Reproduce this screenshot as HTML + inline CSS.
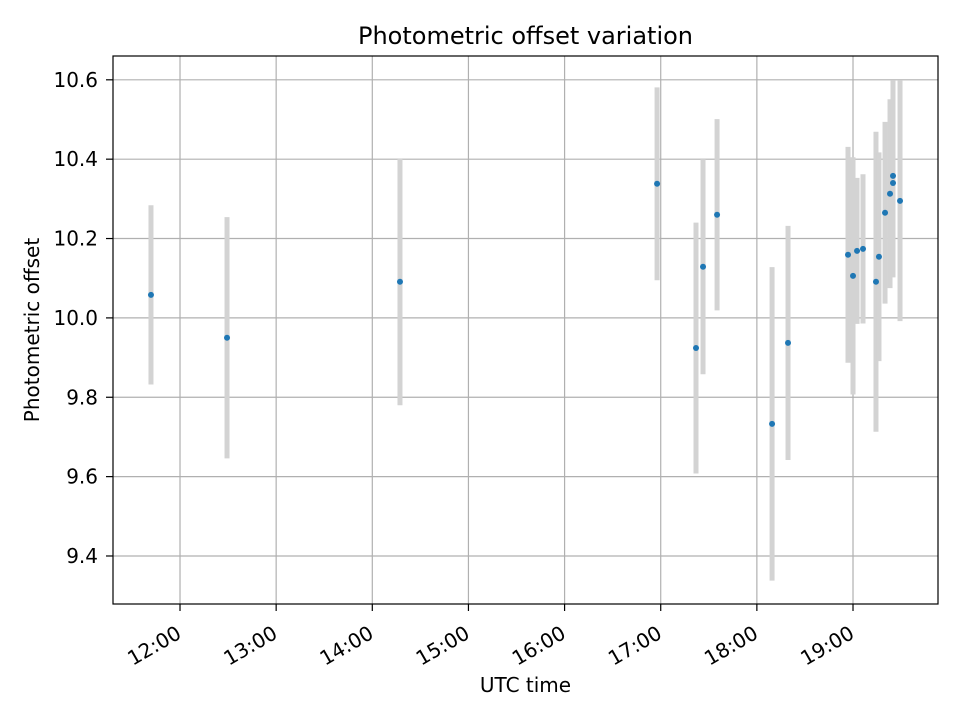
<!DOCTYPE html>
<html><head><meta charset="utf-8"><style>body{margin:0;background:#fff}svg text{font-family:"DejaVu Sans","Liberation Sans",sans-serif;fill:#000}</style></head>
<body>
<svg id="chart" width="960" height="720"></svg>
<script>
const times=[11.698,12.489,14.288,16.962,17.367,17.44,17.586,18.158,18.324,18.948,19.0,19.042,19.104,19.239,19.27,19.333,19.385,19.416,19.416,19.489];
const values=[10.058,9.950,10.091,10.338,9.924,10.129,10.260,9.733,9.937,10.159,10.106,10.169,10.174,10.091,10.154,10.265,10.313,10.340,10.358,10.295];
const errors=[0.226,0.304,0.311,0.243,0.316,0.271,0.241,0.395,0.295,0.272,0.299,0.184,0.188,0.378,0.263,0.229,0.238,0.238,0.24,0.303];
const yTicks=[9.4,9.6,9.8,10.0,10.2,10.4,10.6];
const xTicks=[12,13,14,15,16,17,18,19];
const xTickLabels=["12:00","13:00","14:00","15:00","16:00","17:00","18:00","19:00"];
const L=113,R=938,T=56,B=604,x0=11.303,x1=19.884,y0=9.279,y1=10.66;
const sx=v=>L+(v-x0)/(x1-x0)*(R-L);
const sy=v=>B-(v-y0)/(y1-y0)*(B-T);
const svg=document.getElementById('chart');const NS='http://www.w3.org/2000/svg';
function mk(t,a,p){const e=document.createElementNS(NS,t);for(const k in a)e.setAttribute(k,a[k]);(p||svg).appendChild(e);return e;}
const grid=mk('g',{});
xTicks.forEach((t,i)=>{const x=sx(t);mk('line',{x1:x,x2:x,y1:T,y2:B,stroke:'#b0b0b0','stroke-width':1.2},grid);
mk('line',{x1:x,x2:x,y1:B,y2:B+7,stroke:'#000','stroke-width':1.2});
const tx=mk('text',{x:0,y:0,'font-size':20,'text-anchor':'end','dominant-baseline':'hanging',transform:`translate(${x-5} ${B+20}) rotate(-30)`});
tx.textContent=xTickLabels[i];});
yTicks.forEach(t=>{const y=sy(t);mk('line',{x1:L,x2:R,y1:y,y2:y,stroke:'#b0b0b0','stroke-width':1.2},grid);
mk('line',{x1:L-7,x2:L,y1:y,y2:y,stroke:'#000','stroke-width':1.2});
const tx=mk('text',{x:98,y:y+7,'font-size':20,'text-anchor':'end'});
tx.textContent=t.toFixed(1);});
times.forEach((t,i)=>{const b=mk('line',{x1:sx(t),x2:sx(t),y1:sy(values[i]+errors[i]),y2:sy(values[i]-errors[i]),stroke:'#d3d3d3','stroke-width':5});
});
times.forEach((t,i)=>{const c=mk('circle',{cx:sx(t),cy:sy(values[i]),r:3,fill:'#1f77b4'});
});
const fr=mk('rect',{x:L,y:T,width:R-L,height:B-T,fill:'none',stroke:'#000','stroke-width':1.2});

const ti=mk('text',{x:(L+R)/2,y:44,'font-size':24,'text-anchor':'middle'});ti.textContent='Photometric offset variation';

const xl=mk('text',{x:(L+R)/2,y:692,'font-size':20,'text-anchor':'middle'});xl.textContent='UTC time';

const yl=mk('text',{x:39,y:330,'font-size':20,'text-anchor':'middle',transform:'rotate(-90 39 330)'});yl.textContent='Photometric offset';

</script>
</body></html>
